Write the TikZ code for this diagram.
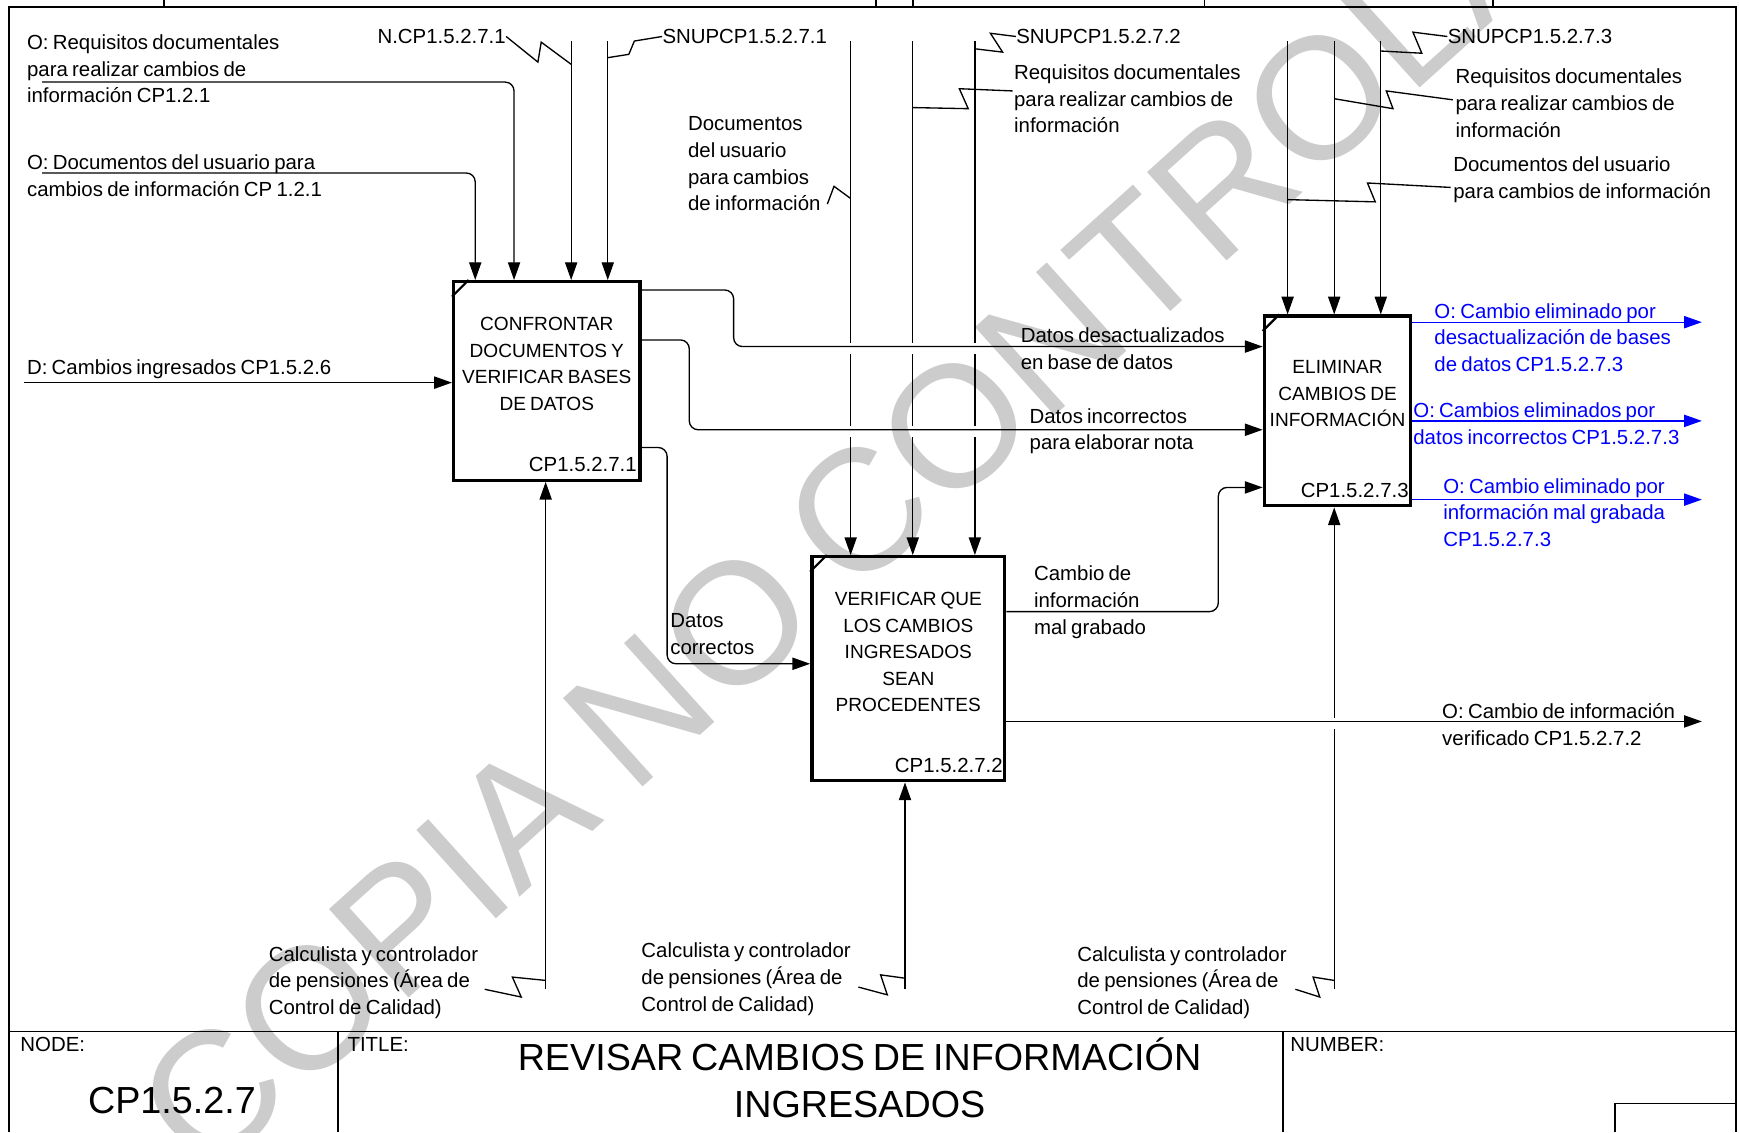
\documentclass[tikz,border=0pt]{standalone}
\usepackage{fontspec}
\setmainfont{Liberation Sans}[WordSpace=0.75]
\usetikzlibrary{arrows.meta,calc}
\newcommand{\lblfont}{\fontsize{9.2}{12}\selectfont}
\newcommand{\actfont}{\fontsize{8.6}{12}\selectfont}
\newcommand{\bigfont}{\fontsize{17}{21}\selectfont}
\definecolor{outblue}{RGB}{0,0,255}
\definecolor{wmark}{gray}{0.8}
\tikzset{
  act/.style={rectangle, draw, line width=1.5pt, inner sep=0pt},
  acttxt/.style={font=\actfont, align=center, inner sep=0pt},
  actnum/.style={font=\lblfont, anchor=base east, inner sep=0pt},
  lbl/.style={font=\lblfont, align=left, anchor=north west, inner sep=0pt},
  ar/.style={-{Triangle[length=8pt,width=5.5pt]}, line width=0.6pt},
  rc/.style={rounded corners=4pt},
  zz/.style={line width=0.6pt},
  frm/.style={line width=0.8pt},
}

\begin{document}
\begin{tikzpicture}[x=0.5pt, y=-0.5pt]
\useasboundingbox (0,0) rectangle (1568,1021);
% marca de agua
\node[rotate=42, anchor=base west, text=wmark, inner sep=0pt,
      font=\fontsize{78}{80}\selectfont] (wm) at (185,1065) {COPIA NO CONTROLADA};
% marco y cajetin
\draw[frm] (8,1021) -- (8,6) -- (1565,6) -- (1565,1021);
\foreach \x in {148,790,823,1086,1346} \draw[frm] (\x,0) -- (\x,6);
\draw[frm] (8,930) -- (1565,930);
\draw[frm] (305,930) -- (305,1021) (1157,930) -- (1157,1021);
\draw[frm] (1456,1021) -- (1456,995) -- (1565,995);
\node[lbl] (lnode) at (18,935) {NODE:};
\node[font=\bigfont, inner sep=0pt] (cpn) at (155,992) {CP1.5.2.7};
\node[lbl] (ltit) at (313,935) {TITLE:};
\node[font=\bigfont, align=center, inner sep=0pt] (tit) at (775,972) {REVISAR CAMBIOS DE INFORMACIÓN\\INGRESADOS};
\node[lbl] (lnum) at (1163,935) {NUMBER:};

% actividades
\node[act, minimum width=84pt, minimum height=89.5pt] (b1) at (493,343.5) {};
\node[act, minimum width=87pt, minimum height=101pt] (b2) at (819,603) {};
\node[act, minimum width=66pt, minimum height=85.5pt] (b3) at (1206,370.5) {};
\foreach \b in {b1,b2,b3} \draw[line width=1pt] ($(\b.north west)+(0,15)$) -- ($(\b.north west)+(15,0)$);
\node[acttxt] (t1) at (493,328) {CONFRONTAR\\DOCUMENTOS Y\\VERIFICAR BASES\\DE DATOS};
\node[actnum] (n1) at ($(b1.south east)+(-4,-9)$) {CP1.5.2.7.1};
\node[acttxt] (t2) at (819,588) {VERIFICAR QUE\\LOS CAMBIOS\\INGRESADOS\\SEAN\\PROCEDENTES};
\node[actnum] (n2) at ($(b2.south east)+(-3,-9)$) {CP1.5.2.7.2};
\node[acttxt] (t3) at (1206,355) {ELIMINAR\\CAMBIOS DE\\INFORMACIÓN};
\node[actnum] (n3) at ($(b3.south east)+(-3,-9)$) {CP1.5.2.7.3};

% controles y mecanismos
\foreach \x/\b in {515/b1,548/b1,767/b2,823/b2,879/b2,1161/b3,1203/b3,1245/b3}
  \draw[ar] (\x,37) -- (\x,37 |- \b.north);
\foreach \x/\b in {492/b1,816/b2,1203/b3}
  \draw[ar] (\x,892) -- (\x,892 |- \b.south);
\coordinate (s1) at (38,156);
\coordinate (s2) at (38,74);
\draw[ar,rc] (s1) -| ($(b1.north west)+(21,0)$);
\draw[ar,rc] (s2) -| ($(b1.north west)+(56,0)$);
\coordinate (s3) at (22,345);
\draw[ar] (s3) -- (s3 -| b1.west);

% cortes en los cruces
\foreach \x/\y in {767/314,823/314,879/314,767/389,823/389,879/389,1203/652}
  \fill[white] (\x-2,\y-5) rectangle (\x+2,\y+5);

% salidas
\draw[ar,rc] ($(b1.north east)+(0,9)$) -- ++(83,0) |- ($(b3.north west)+(0,29)$);
\draw[ar,rc] ($(b1.north east)+(0,54)$) -- ++(43,0) |- ($(b3.north west)+(0,104)$);
\draw[ar,rc] ($(b1.north east)+(0,151)$) -- ++(23,0) |- ($(b2.north west)+(0,98)$);
\draw[ar,rc] ($(b2.north east)+(0,51)$) -- ++(191,0) |- ($(b3.north west)+(0,156)$);
\draw[ar] ($(b2.north east)+(0,150)$) -- ++(627,0);
\foreach \dy in {7,96,167} \draw[ar,outblue] ($(b3.north east)+(0,\dy)$) -- ++(261,0);

% etiquetas
\node[lbl] (lreq) at (24,31) {O: Requisitos documentales\\para realizar cambios de\\información CP1.2.1};
\node[lbl] (ldoc) at (24,139) {O: Documentos del usuario para\\cambios de información CP 1.2.1};
\node[lbl] (lncp) at (340,26) {N.CP1.5.2.7.1};
\node[lbl] (lsn1) at (597,26) {SNUPCP1.5.2.7.1};
\node[lbl] (ldoc2) at (620,105) {Documentos\\del usuario\\para cambios\\de información};
\node[lbl] (lsn2) at (916,26) {SNUPCP1.5.2.7.2};
\node[lbl] (lreq2) at (914,58) {Requisitos documentales\\para realizar cambios de\\información};
\node[lbl] (lsn3) at (1305,26) {SNUPCP1.5.2.7.3};
\node[lbl] (lreq3) at (1312,62) {Requisitos documentales\\para realizar cambios de\\información};
\node[lbl] (ldoc3) at (1310,141) {Documentos del usuario\\para cambios de información};
\node[lbl] (lin) at (24,324) {D: Cambios ingresados CP1.5.2.6};
\node[lbl] (ldes) at (920,295) {Datos desactualizados\\en base de datos};
\node[lbl] (linc) at (928,368) {Datos incorrectos\\para elaborar nota};
\node[lbl] (lcor) at (604,553) {Datos\\correctos};
\node[lbl] (lmal) at (932,510) {Cambio de\\información\\mal grabado};
\node[lbl] (lver) at (1300,634) {O: Cambio de información\\verificado CP1.5.2.7.2};
\node[lbl, text=outblue] (lo1) at (1293,273) {O: Cambio eliminado por\\desactualización de bases\\de datos CP1.5.2.7.3};
\node[lbl, text=outblue] (lo2) at (1274,363) {O: Cambios eliminados por\\datos incorrectos CP1.5.2.7.3};
\node[lbl, text=outblue] (lo3) at (1301,431) {O: Cambio eliminado por\\información mal grabada\\CP1.5.2.7.3};
\node[lbl] (lm1) at (242,853) {Calculista y controlador\\de pensiones (Área de\\Control de Calidad)};
\node[lbl] (lm2) at (578,850) {Calculista y controlador\\de pensiones (Área de\\Control de Calidad)};
\node[lbl] (lm3) at (971,853) {Calculista y controlador\\de pensiones (Área de\\Control de Calidad)};

% rayos de las etiquetas
\draw[zz] (lncp.east) -- (485,56) -- (488,38) -- (515,58);
\draw[zz] (548,52) -- (567,49) -- (572,37) -- (lsn1.west);
\draw[zz] (746,184) -- (752,168) -- (767,179);
\draw[zz] (823,97) -- (873,98) -- (865,80) -- (913,82);
\draw[zz] (879,44) -- (904,47) -- (893,30) -- (lsn2.west);
\draw[zz] (1245,46) -- (1282,48) -- (1274,29) -- (lsn3.west);
\draw[zz] (1203,89) -- (1256,98) -- (1250,82) -- (1310,90);
\draw[zz] (1161,180) -- (1240,182) -- (1233,165) -- (1308,169);
\draw[zz] (437,892) -- (470,899) -- (462,881) -- (492,884);
\draw[zz] (774,890) -- (800,897) -- (794,879) -- (816,882);
\draw[zz] (1168,892) -- (1190,899) -- (1184,881) -- (1203,884);
\end{tikzpicture}
\end{document}
